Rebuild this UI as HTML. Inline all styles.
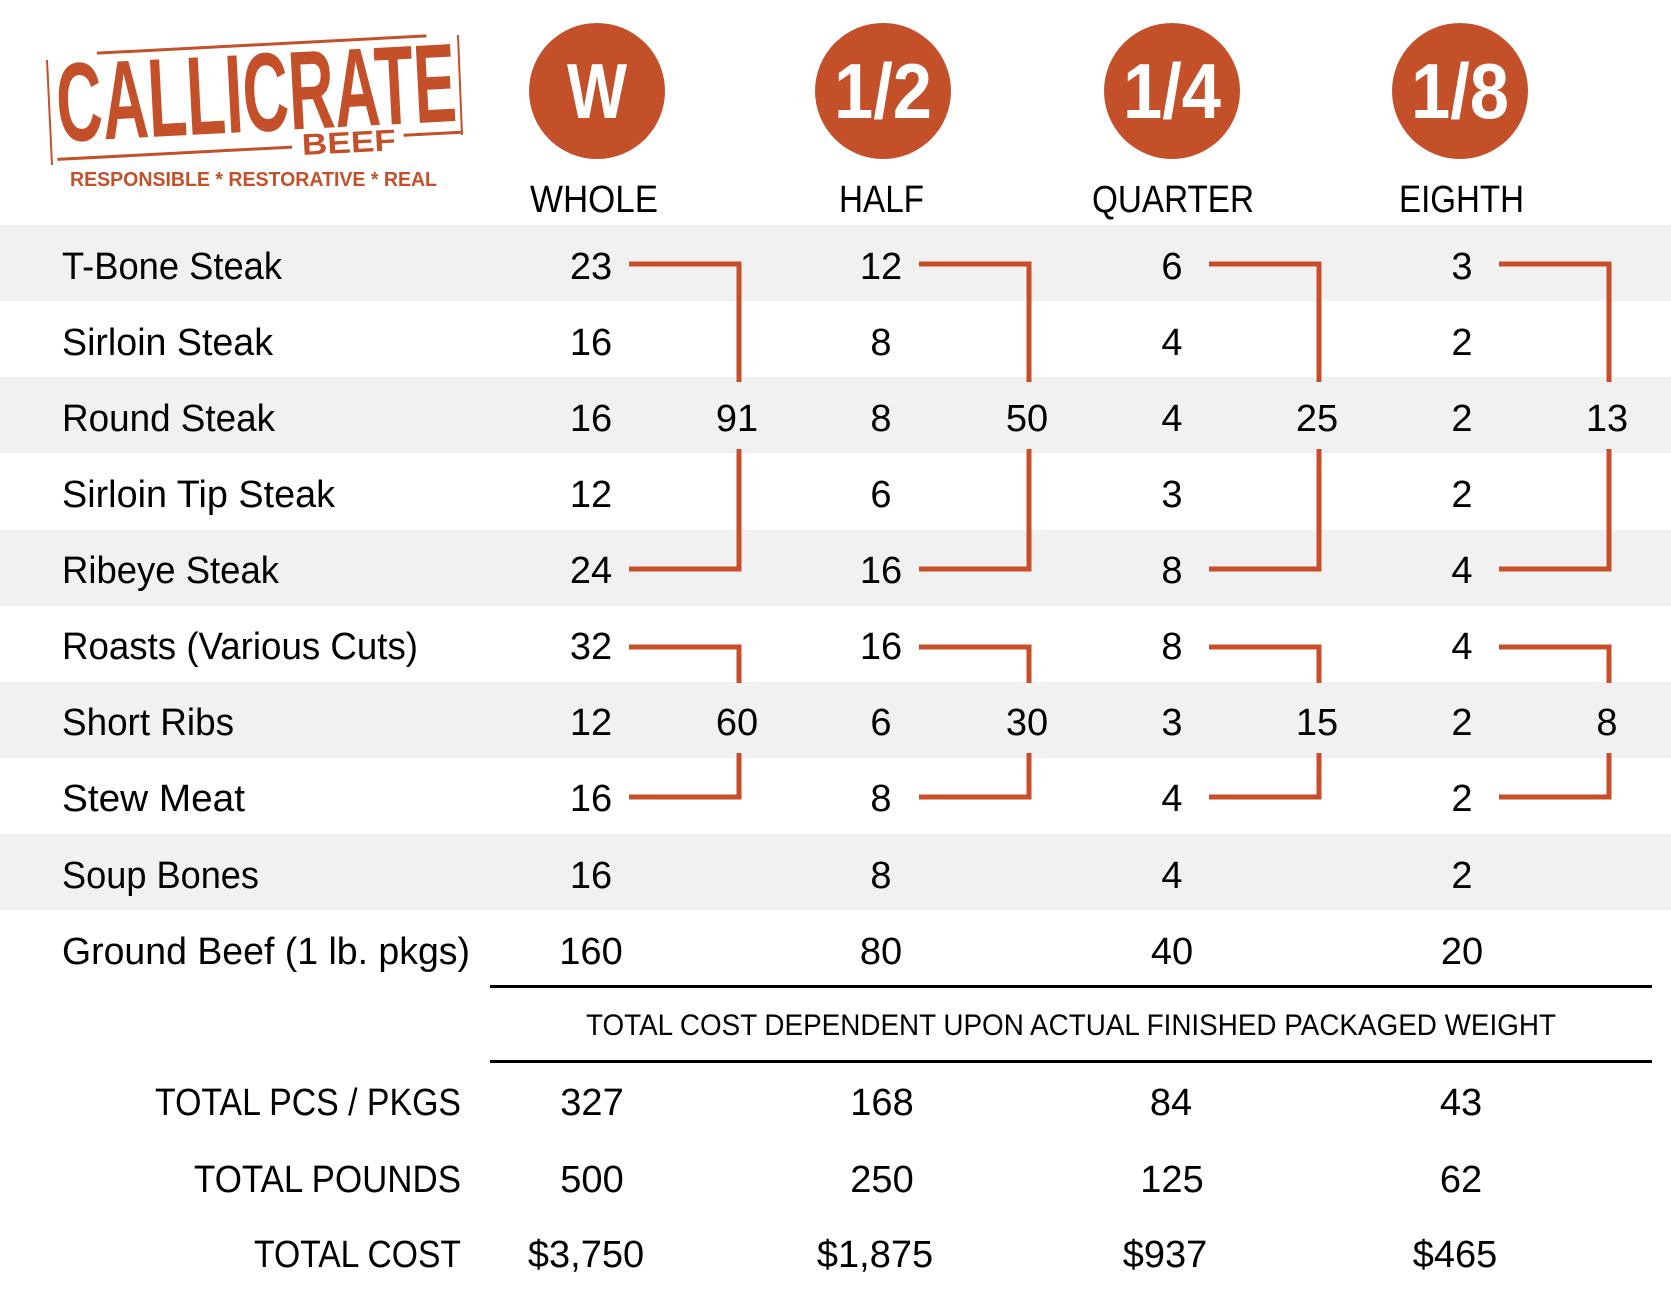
<!DOCTYPE html>
<html><head><meta charset="utf-8"><style>
html,body{margin:0;padding:0;background:#fff;}
svg{display:block;}
text{font-family:"Liberation Sans",sans-serif;}
</style></head><body>
<svg width="1671" height="1293" viewBox="0 0 1671 1293" xmlns="http://www.w3.org/2000/svg">
<rect width="1671" height="1293" fill="#fff"/>
<g fill="#f1f1f1">
<rect x="0" y="225" width="1671" height="76"/>
<rect x="0" y="377" width="1671" height="76"/>
<rect x="0" y="530" width="1671" height="76"/>
<rect x="0" y="682" width="1671" height="76"/>
<rect x="0" y="834" width="1671" height="76"/>
</g>
<!-- logo -->
<g transform="rotate(-3 245 110)" fill="#c4502a">
<text x="57" y="132" font-size="112" font-weight="bold" textLength="400" lengthAdjust="spacingAndGlyphs">CALLICRATE</text>
<text x="300" y="158" font-size="30" font-weight="bold" textLength="94" lengthAdjust="spacingAndGlyphs">BEEF</text>
<rect x="55" y="148" width="235" height="3"/>
<rect x="402" y="142" width="58" height="3"/>
<rect x="100" y="44" width="330" height="3"/>
</g>
<line x1="47" y1="60" x2="52" y2="165" stroke="#c4502a" stroke-width="2"/>
<line x1="458" y1="35" x2="462" y2="135" stroke="#c4502a" stroke-width="2"/>
<text x="70" y="186" font-size="20" font-weight="bold" fill="#c4502a" textLength="367" lengthAdjust="spacingAndGlyphs">RESPONSIBLE * RESTORATIVE * REAL</text>
<g fill="#c4502a">
<circle cx="597" cy="91" r="68"/><circle cx="883" cy="91" r="68"/><circle cx="1172" cy="91" r="68"/><circle cx="1460" cy="91" r="68"/>
</g>
<g fill="#fff" font-weight="bold" font-size="78" text-anchor="middle">
<text x="597" y="118" textLength="60" lengthAdjust="spacingAndGlyphs">W</text>
<text x="883" y="118" textLength="98" lengthAdjust="spacingAndGlyphs">1/2</text>
<text x="1172" y="118" textLength="98" lengthAdjust="spacingAndGlyphs">1/4</text>
<text x="1460" y="118" textLength="98" lengthAdjust="spacingAndGlyphs">1/8</text>
</g>
<g font-size="38" fill="#000">
<text x="530" y="212" textLength="128" lengthAdjust="spacingAndGlyphs">WHOLE</text>
<text x="839" y="212" textLength="85" lengthAdjust="spacingAndGlyphs">HALF</text>
<text x="1092" y="212" textLength="162" lengthAdjust="spacingAndGlyphs">QUARTER</text>
<text x="1399" y="212" textLength="125" lengthAdjust="spacingAndGlyphs">EIGHTH</text>
</g>
<g font-size="38" fill="#000">
<text x="62" y="279" textLength="220" lengthAdjust="spacingAndGlyphs">T-Bone Steak</text>
<text x="62" y="355" textLength="211" lengthAdjust="spacingAndGlyphs">Sirloin Steak</text>
<text x="62" y="431" textLength="213" lengthAdjust="spacingAndGlyphs">Round Steak</text>
<text x="62" y="507" textLength="273" lengthAdjust="spacingAndGlyphs">Sirloin Tip Steak</text>
<text x="62" y="583" textLength="217" lengthAdjust="spacingAndGlyphs">Ribeye Steak</text>
<text x="62" y="659" textLength="356" lengthAdjust="spacingAndGlyphs">Roasts (Various Cuts)</text>
<text x="62" y="735" textLength="172" lengthAdjust="spacingAndGlyphs">Short Ribs</text>
<text x="62" y="811" textLength="183" lengthAdjust="spacingAndGlyphs">Stew Meat</text>
<text x="62" y="888" textLength="197" lengthAdjust="spacingAndGlyphs">Soup Bones</text>
<text x="62" y="964" textLength="408" lengthAdjust="spacingAndGlyphs">Ground Beef (1 lb. pkgs)</text>
</g>
<g font-size="38" fill="#000" text-anchor="middle">
<text x="591" y="279">23</text><text x="881" y="279">12</text><text x="1172" y="279">6</text><text x="1462" y="279">3</text>
<text x="591" y="355">16</text><text x="881" y="355">8</text><text x="1172" y="355">4</text><text x="1462" y="355">2</text>
<text x="591" y="431">16</text><text x="881" y="431">8</text><text x="1172" y="431">4</text><text x="1462" y="431">2</text>
<text x="591" y="507">12</text><text x="881" y="507">6</text><text x="1172" y="507">3</text><text x="1462" y="507">2</text>
<text x="591" y="583">24</text><text x="881" y="583">16</text><text x="1172" y="583">8</text><text x="1462" y="583">4</text>
<text x="591" y="659">32</text><text x="881" y="659">16</text><text x="1172" y="659">8</text><text x="1462" y="659">4</text>
<text x="591" y="735">12</text><text x="881" y="735">6</text><text x="1172" y="735">3</text><text x="1462" y="735">2</text>
<text x="591" y="811">16</text><text x="881" y="811">8</text><text x="1172" y="811">4</text><text x="1462" y="811">2</text>
<text x="591" y="888">16</text><text x="881" y="888">8</text><text x="1172" y="888">4</text><text x="1462" y="888">2</text>
<text x="591" y="964">160</text><text x="881" y="964">80</text><text x="1172" y="964">40</text><text x="1462" y="964">20</text>
<text x="737" y="431">91</text><text x="1027" y="431">50</text><text x="1317" y="431">25</text><text x="1607" y="431">13</text>
<text x="737" y="735">60</text><text x="1027" y="735">30</text><text x="1317" y="735">15</text><text x="1607" y="735">8</text>
</g>
<g fill="none" stroke="#c84e2a" stroke-width="5">
<path d="M629 264 H739 V382 M739 449 V569 H629"/>
<path d="M919 264 H1029 V382 M1029 449 V569 H919"/>
<path d="M1209 264 H1319 V382 M1319 449 V569 H1209"/>
<path d="M1499 264 H1609 V382 M1609 449 V569 H1499"/>
<path d="M629 647 H739 V683 M739 753 V797 H629"/>
<path d="M919 647 H1029 V683 M1029 753 V797 H919"/>
<path d="M1209 647 H1319 V683 M1319 753 V797 H1209"/>
<path d="M1499 647 H1609 V683 M1609 753 V797 H1499"/>
</g>
<rect x="490" y="985" width="1162" height="3" fill="#000"/>
<rect x="490" y="1060" width="1162" height="3" fill="#000"/>
<text x="586" y="1035" font-size="30" fill="#000" textLength="970" lengthAdjust="spacingAndGlyphs">TOTAL COST DEPENDENT UPON ACTUAL FINISHED PACKAGED WEIGHT</text>
<g font-size="38" fill="#000">
<text x="155" y="1115" textLength="306" lengthAdjust="spacingAndGlyphs">TOTAL PCS / PKGS</text>
<text x="194" y="1192" textLength="267" lengthAdjust="spacingAndGlyphs">TOTAL POUNDS</text>
<text x="254" y="1267" textLength="207" lengthAdjust="spacingAndGlyphs">TOTAL COST</text>
</g>
<g font-size="38" fill="#000" text-anchor="middle">
<text x="592" y="1115">327</text><text x="882" y="1115">168</text><text x="1171" y="1115">84</text><text x="1461" y="1115">43</text>
<text x="592" y="1192">500</text><text x="882" y="1192">250</text><text x="1172" y="1192">125</text><text x="1461" y="1192">62</text>
<text x="586" y="1267">$3,750</text><text x="875" y="1267">$1,875</text><text x="1165" y="1267">$937</text><text x="1455" y="1267">$465</text>
</g>
</svg>
</body></html>
